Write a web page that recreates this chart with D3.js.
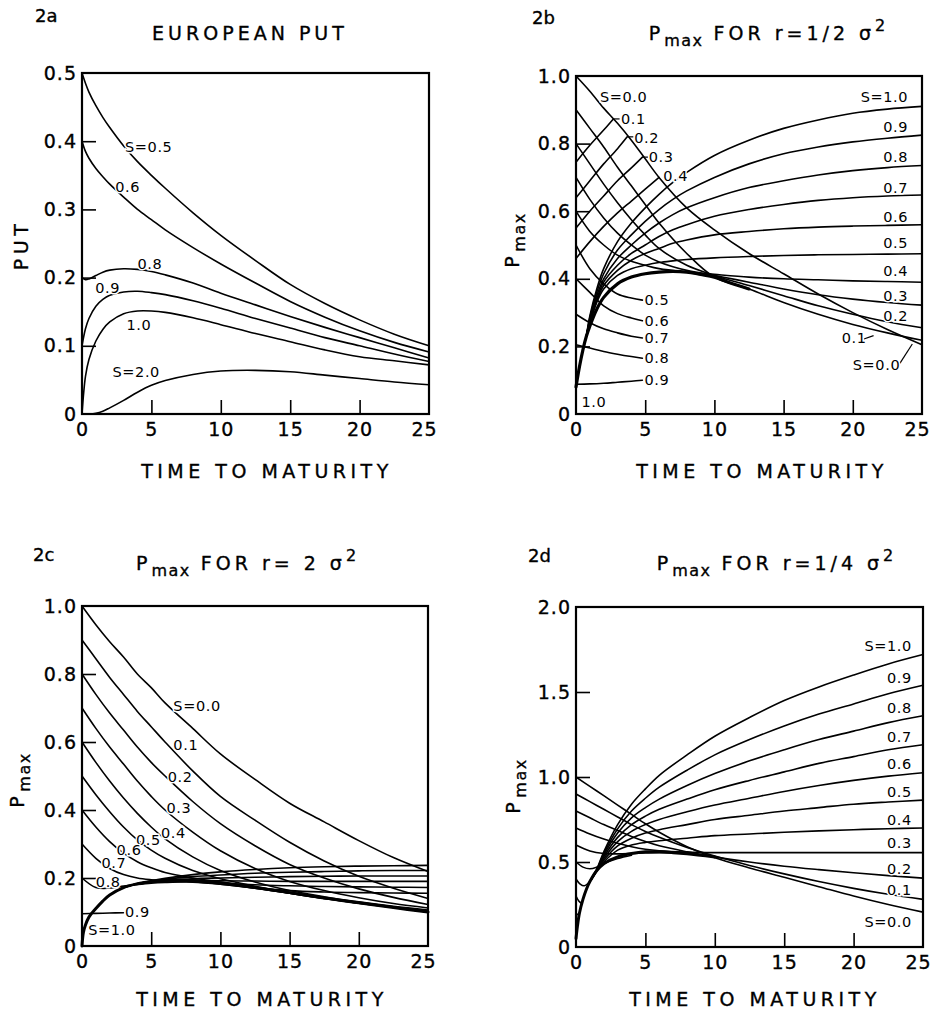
<!DOCTYPE html>
<html>
<head>
<meta charset="utf-8">
<script src="https://cdn.jsdelivr.net/npm/d3@7"></script>
<style>
  body { margin: 0; background: #fff; }
  svg { display: block; font-family: "DejaVu Sans", sans-serif; }
  .tick text { font-size: 19px; letter-spacing: 1px; fill: #000; stroke: #000; stroke-width: 0.35px; }
  .clabel { font-size: 14.5px; letter-spacing: 0.6px; fill: #000;
            stroke: #fff; stroke-width: 3px; paint-order: stroke; }
  .title { font-size: 19px; letter-spacing: 4px; stroke: #000; stroke-width: 0.35px; }
  .axtitle { font-size: 19px; letter-spacing: 4.5px; stroke: #000; stroke-width: 0.35px; }
  .panelid { font-size: 18px; stroke: #000; stroke-width: 0.35px; }
</style>
</head>
<body>
<svg id="fig" width="935" height="1012"></svg>
<script>
const T_GRID = [0, 1, 2, 3, 4, 5, 6, 8, 10, 12.5, 15, 17.5, 20, 22.5, 25];
const xTickLabels = [0, 5, 10, 15, 20, 25];
const xTickMarks = [5, 10, 15, 20];

// ---- 2a european put ----
const putTime = [0, 0.25, 0.5, 1, 1.5, 2, 3, 4, 5, 6, 8, 10, 12.5, 15, 17.5, 20, 22.5, 25];
const putCurves = [
  [0.5, 0.485, 0.472, 0.452, 0.435, 0.42, 0.393, 0.37, 0.35, 0.331, 0.295, 0.262, 0.225, 0.19, 0.162, 0.138, 0.117, 0.1],    // S=0.5
  [0.4, 0.385, 0.375, 0.36, 0.348, 0.337, 0.318, 0.3, 0.285, 0.27, 0.244, 0.22, 0.192, 0.165, 0.142, 0.122, 0.105, 0.091],   // S=0.6
  [0.2, 0.197, 0.198, 0.203, 0.208, 0.211, 0.213, 0.212, 0.209, 0.204, 0.192, 0.177, 0.16, 0.143, 0.127, 0.112, 0.097, 0.082], // S=0.8
  [0.1, 0.125, 0.14, 0.158, 0.168, 0.174, 0.179, 0.18, 0.178, 0.175, 0.166, 0.155, 0.14, 0.126, 0.112, 0.1, 0.088, 0.077],   // S=0.9
  [0, 0.055, 0.08, 0.107, 0.124, 0.135, 0.147, 0.151, 0.151, 0.149, 0.141, 0.131, 0.118, 0.106, 0.094, 0.084, 0.078, 0.072], // S=1.0
  [0, 0, 0, 0.001, 0.004, 0.009, 0.02, 0.032, 0.042, 0.049, 0.058, 0.063, 0.064, 0.062, 0.057, 0.052, 0.047, 0.043]         // S=2.0
];
const putLabels = [
  ["S=0.5", 3.1, 0.384], ["0.6", 2.4, 0.326], ["0.8", 4.0, 0.213],
  ["0.9", 0.95, 0.177], ["1.0", 3.2, 0.123], ["S=2.0", 2.2, 0.054]
];

// ---- 2b  r = 1/2 sigma^2 ----
const bDecay = [
  [1.0, 0.955, 0.905, 0.86, 0.81, 0.755, 0.70, 0.61, 0.545, 0.475, 0.415, 0.355, 0.30, 0.25, 0.205], // S=0.0
  [0.9, 0.845, 0.79, 0.73, 0.675, 0.62, 0.565, 0.475, 0.405, 0.37, 0.33, 0.295, 0.265, 0.24, 0.218], // S=0.1
  [0.8, 0.74, 0.68, 0.625, 0.575, 0.53, 0.49, 0.44, 0.41, 0.38, 0.35, 0.32, 0.295, 0.273, 0.255],    // S=0.2
  [0.7, 0.635, 0.58, 0.535, 0.5, 0.47, 0.45, 0.425, 0.41, 0.39, 0.37, 0.353, 0.34, 0.33, 0.322],     // S=0.3
  [0.6, 0.54, 0.5, 0.47, 0.452, 0.44, 0.43, 0.42, 0.413, 0.405, 0.4, 0.397, 0.394, 0.392, 0.39]      // S=0.4
];
const bShortTime = [0, 1, 2, 3, 4, 4.8];
const bShort = [
  [0.5, 0.43, 0.385, 0.355, 0.343, 0.337],   // S=0.5
  [0.4, 0.36, 0.32, 0.297, 0.284, 0.276],    // S=0.6
  [0.295, 0.27, 0.252, 0.24, 0.23, 0.225],   // S=0.7
  [0.205, 0.195, 0.185, 0.177, 0.17, 0.165], // S=0.8
  [0.088, 0.089, 0.091, 0.094, 0.097, 0.1]   // S=0.9
];
const bEnvTime = [0, 0.25, 0.5, 0.75, 1, 1.5, 2, 3, 4, 5, 6, 7, 8, 9, 10, 11, 12.5];
const bEnv = [0.08, 0.14, 0.19, 0.23, 0.26, 0.31, 0.345, 0.385, 0.405, 0.415, 0.42, 0.422, 0.42, 0.413, 0.405, 0.39, 0.37];
const bRiseTime = [0.75, 1, 1.5, 2, 3, 4, 5, 6, 7, 8, 10, 12.5, 15, 17.5, 20, 22.5, 25];
const bRise = [
  [0.23, 0.29, 0.37, 0.43, 0.51, 0.565, 0.61, 0.65, 0.685, 0.715, 0.765, 0.81, 0.845, 0.87, 0.89, 0.902, 0.91],   // S=1.0
  [0.23, 0.285, 0.36, 0.415, 0.485, 0.53, 0.57, 0.605, 0.635, 0.66, 0.70, 0.74, 0.77, 0.79, 0.805, 0.816, 0.825], // S=0.9
  [0.23, 0.28, 0.35, 0.40, 0.46, 0.50, 0.535, 0.565, 0.59, 0.61, 0.64, 0.67, 0.69, 0.707, 0.72, 0.729, 0.735],    // S=0.8
  [0.23, 0.275, 0.34, 0.39, 0.44, 0.475, 0.50, 0.525, 0.545, 0.56, 0.585, 0.605, 0.62, 0.632, 0.64, 0.645, 0.648], // S=0.7
  [0.23, 0.27, 0.335, 0.38, 0.425, 0.455, 0.475, 0.49, 0.505, 0.515, 0.53, 0.54, 0.548, 0.553, 0.556, 0.558, 0.56], // S=0.6
  [0.23, 0.268, 0.33, 0.37, 0.41, 0.43, 0.44, 0.448, 0.453, 0.457, 0.462, 0.466, 0.469, 0.471, 0.472, 0.473, 0.474] // S=0.5
];
const bUpperTime = [[0, 1, 2, 2.7], [0, 1, 2, 3, 3.7], [0, 1, 2, 3, 4, 4.8], [0, 1, 2, 3, 4, 5, 6]];
const bUpper = [
  [0.745, 0.795, 0.84, 0.873],
  [0.64, 0.69, 0.74, 0.785, 0.82],
  [0.55, 0.6, 0.645, 0.69, 0.728, 0.76],
  [0.46, 0.51, 0.555, 0.595, 0.63, 0.665, 0.70]
];
const bLabels = [
  ["S=0.0", 1.73, 0.924], ["0.1", 3.25, 0.858], ["0.2", 4.2, 0.803], ["0.3", 5.25, 0.745], ["0.4", 6.3, 0.688],
  ["0.5", 4.95, 0.322], ["0.6", 4.95, 0.261], ["0.7", 4.95, 0.21], ["0.8", 4.95, 0.15], ["0.9", 4.95, 0.085],
  ["1.0", 0.4, 0.02],
  ["S=1.0", 24.0, 0.924, "end"], ["0.9", 24.0, 0.835, "end"], ["0.8", 24.0, 0.747, "end"],
  ["0.7", 24.0, 0.653, "end"], ["0.6", 24.0, 0.569, "end"], ["0.5", 24.0, 0.49, "end"],
  ["0.4", 24.0, 0.407, "end"], ["0.3", 24.0, 0.333, "end"], ["0.2", 24.0, 0.274, "end"],
  ["0.1", 19.2, 0.21], ["S=0.0", 20.0, 0.131]
];
const bLeaders = [
  [2.7, 0.873, 3.15, 0.873], [3.7, 0.82, 4.15, 0.82], [4.8, 0.76, 5.2, 0.76],
  [20.8, 0.222, 21.5, 0.232], [23.4, 0.15, 24.3, 0.207]
];

// ---- 2c  r = 2 sigma^2 ----
const cDecay = [
  [1.0, 0.945, 0.895, 0.85, 0.80, 0.76, 0.715, 0.64, 0.565, 0.49, 0.42, 0.365, 0.31, 0.26, 0.219],   // S=0.0
  [0.9, 0.845, 0.79, 0.74, 0.69, 0.645, 0.6, 0.515, 0.44, 0.37, 0.305, 0.25, 0.205, 0.17, 0.14],     // S=0.1
  [0.8, 0.74, 0.685, 0.635, 0.585, 0.54, 0.5, 0.425, 0.36, 0.295, 0.24, 0.2, 0.168, 0.143, 0.122],   // S=0.2
  [0.7, 0.64, 0.585, 0.535, 0.485, 0.44, 0.4, 0.335, 0.28, 0.228, 0.19, 0.163, 0.142, 0.125, 0.112], // S=0.3
  [0.6, 0.54, 0.485, 0.435, 0.39, 0.35, 0.315, 0.262, 0.222, 0.188, 0.163, 0.145, 0.13, 0.117, 0.106], // S=0.4
  [0.5, 0.445, 0.395, 0.35, 0.312, 0.282, 0.258, 0.222, 0.198, 0.176, 0.158, 0.142, 0.128, 0.115, 0.103], // S=0.5
  [0.4, 0.35, 0.307, 0.273, 0.248, 0.23, 0.216, 0.2, 0.188, 0.172, 0.156, 0.141, 0.127, 0.114, 0.101],  // S=0.6
  [0.3, 0.258, 0.228, 0.21, 0.2, 0.195, 0.192, 0.189, 0.182, 0.17, 0.155, 0.14, 0.126, 0.113, 0.1],     // S=0.7
  [0.2, 0.172, 0.17, 0.176, 0.181, 0.185, 0.187, 0.188, 0.182, 0.17, 0.155, 0.14, 0.126, 0.113, 0.1]    // S=0.8
];
const cShortTime = [0, 1, 2, 3];
const cShort = [0.095, 0.096, 0.097, 0.098]; // S=0.9
const cEnvTime = [0, 0.1, 0.25, 0.5, 1, 1.5, 2, 3, 4, 5, 6, 7, 8, 10, 12.5, 15, 17.5, 20, 22.5, 25];
const cEnv = [0.0, 0.04, 0.062, 0.085, 0.11, 0.132, 0.15, 0.172, 0.183, 0.19, 0.193, 0.194, 0.193, 0.186, 0.172, 0.157, 0.141, 0.127, 0.113, 0.1];
const cFlatTime = [
  [3, 4, 5, 6, 8, 10, 12.5, 15, 17.5, 20, 22.5, 25],
  [3, 4, 5, 6, 8, 10, 12.5, 15, 17.5, 20, 22.5, 25],
  [3, 4, 5, 6, 8, 10, 12.5, 15, 17.5, 20, 22.5, 25],
  [3, 4, 5, 6, 8, 10, 12.5, 15, 17.5, 20, 22.5, 25],
  [8, 10, 12.5, 15, 17.5, 20, 22.5, 25],
  [10, 12.5, 15, 17.5, 20, 22.5, 25]
];
const cFlat = [
  [0.172, 0.183, 0.192, 0.199, 0.21, 0.218, 0.225, 0.23, 0.233, 0.235, 0.236, 0.237],
  [0.172, 0.183, 0.19, 0.196, 0.204, 0.209, 0.214, 0.217, 0.219, 0.221, 0.222, 0.222],
  [0.172, 0.183, 0.189, 0.193, 0.198, 0.2, 0.202, 0.204, 0.205, 0.206, 0.206, 0.206],
  [0.172, 0.183, 0.189, 0.192, 0.193, 0.192, 0.191, 0.19, 0.19, 0.19, 0.19, 0.19],
  [0.193, 0.186, 0.18, 0.177, 0.175, 0.174, 0.173, 0.172],
  [0.186, 0.172, 0.163, 0.159, 0.157, 0.156, 0.155]
];
const cLabels = [
  ["S=0.0", 6.6, 0.69], ["0.1", 6.6, 0.576], ["0.2", 6.2, 0.483], ["0.3", 6.1, 0.39],
  ["0.4", 5.7, 0.317], ["0.5", 3.9, 0.297], ["0.6", 2.5, 0.268], ["0.7", 1.4, 0.228],
  ["0.8", 1.0, 0.175], ["0.9", 3.1, 0.085], ["S=1.0", 0.45, 0.032]
];

// ---- 2d  r = 1/4 sigma^2 ----
const dDecay = [
  [1.0, 0.945, 0.89, 0.835, 0.78, 0.725, 0.675, 0.59, 0.525, 0.465, 0.41, 0.355, 0.3, 0.25, 0.205],   // S=0.0
  [0.9, 0.855, 0.81, 0.765, 0.72, 0.68, 0.645, 0.585, 0.535, 0.48, 0.43, 0.385, 0.345, 0.31, 0.28],   // S=0.1
  [0.8, 0.76, 0.72, 0.685, 0.65, 0.62, 0.595, 0.56, 0.53, 0.5, 0.475, 0.455, 0.437, 0.42, 0.405],     // S=0.2
  [0.7, 0.665, 0.635, 0.61, 0.59, 0.575, 0.566, 0.558, 0.555, 0.555, 0.555, 0.555, 0.555, 0.555, 0.555] // S=0.3
];
const dShortTime = [[0, 1, 2, 3, 4, 5, 6, 8], [0, 0.5, 1, 1.5, 2, 3, 4], [0, 0.3, 0.6, 1], [0, 0.2, 0.4], [0, 0.15, 0.25]];
const dShort = [
  [0.6, 0.565, 0.55, 0.548, 0.55, 0.553, 0.555, 0.553], // S=0.4
  [0.5, 0.47, 0.46, 0.47, 0.49, 0.52, 0.54],           // S=0.5
  [0.4, 0.37, 0.36, 0.385],                            // S=0.6
  [0.3, 0.27, 0.255],                                  // S=0.7
  [0.2, 0.19, 0.2]                                     // S=0.8
];
const dEnvTime = [0, 0.1, 0.25, 0.5, 0.75, 1, 1.5, 2, 3, 4, 5, 6, 7, 8, 10];
const dEnv = [0.05, 0.12, 0.2, 0.28, 0.34, 0.385, 0.45, 0.49, 0.53, 0.55, 0.56, 0.56, 0.555, 0.548, 0.53];
const dRiseTime = [1, 1.5, 2, 3, 4, 5, 6, 8, 10, 12.5, 15, 17.5, 20, 22.5, 25];
const dRise = [
  [0.385, 0.46, 0.56, 0.72, 0.84, 0.93, 1.01, 1.13, 1.24, 1.35, 1.45, 1.53, 1.6, 1.665, 1.72],     // S=1.0
  [0.385, 0.455, 0.55, 0.695, 0.8, 0.875, 0.94, 1.04, 1.13, 1.22, 1.3, 1.37, 1.43, 1.49, 1.54],    // S=0.9
  [0.385, 0.45, 0.54, 0.67, 0.76, 0.82, 0.87, 0.95, 1.02, 1.095, 1.16, 1.22, 1.27, 1.32, 1.36],    // S=0.8
  [0.385, 0.45, 0.53, 0.645, 0.72, 0.77, 0.81, 0.87, 0.925, 0.98, 1.03, 1.08, 1.12, 1.16, 1.19],   // S=0.7
  [0.385, 0.45, 0.52, 0.62, 0.68, 0.72, 0.75, 0.795, 0.835, 0.875, 0.915, 0.95, 0.98, 1.005, 1.025], // S=0.6
  [0.385, 0.45, 0.51, 0.595, 0.64, 0.67, 0.69, 0.72, 0.75, 0.775, 0.8, 0.82, 0.84, 0.853, 0.864],  // S=0.5
  [0.385, 0.45, 0.5, 0.57, 0.6, 0.615, 0.625, 0.64, 0.655, 0.665, 0.675, 0.683, 0.69, 0.696, 0.70] // S=0.4
];
const dLabels = [
  ["S=1.0", 24.2, 1.74, "end"], ["0.9", 24.2, 1.552, "end"], ["0.8", 24.2, 1.375, "end"],
  ["0.7", 24.2, 1.208, "end"], ["0.6", 24.2, 1.045, "end"], ["0.5", 24.2, 0.884, "end"],
  ["0.4", 24.2, 0.717, "end"], ["0.3", 24.2, 0.58, "end"], ["0.2", 24.2, 0.432, "end"],
  ["0.1", 24.2, 0.305, "end"], ["S=0.0", 24.2, 0.118, "end"]
];

// pair up times and values into point lists
function pts(times, values) {
  return times.map((t, i) => [t, values[i]]);
}

const svg = d3.select("#fig");
svg.append("rect").attr("width", 935).attr("height", 1012).attr("fill", "#fff");

function drawPanel(p) {
  const x = d3.scaleLinear().domain([0, 25]).range([p.left, p.right]);
  const y = d3.scaleLinear().domain([0, p.yMax]).range([p.bottom, p.top]);
  const g = svg.append("g");

  const line = d3.line()
    .x(d => x(d[0]))
    .y(d => y(d[1]))
    .curve(d3.curveCatmullRom.alpha(0.5));

  g.selectAll(".curve")
    .data(p.curves)
    .join("path")
    .attr("class", "curve")
    .attr("d", d => line(d.points))
    .attr("fill", "none")
    .attr("stroke", "#000")
    .attr("stroke-width", d => d.width || 1.6)
    .attr("stroke-linejoin", "round")
    .attr("stroke-linecap", "round");

  // frame
  g.append("rect")
    .attr("x", p.left).attr("y", p.top)
    .attr("width", p.right - p.left).attr("height", p.bottom - p.top)
    .attr("fill", "none").attr("stroke", "#000").attr("stroke-width", 2.2);

  // x tick labels (the last one sits a little inside, as in the original)
  g.append("g")
    .attr("transform", `translate(0,${p.bottom})`)
    .call(d3.axisBottom(x).tickValues(xTickLabels).tickSize(0).tickPadding(9).tickFormat(d3.format("d")))
    .call(a => a.select(".domain").remove())
    .call(a => a.selectAll("text").attr("font-family", "DejaVu Sans")
      .attr("dx", d => d === 25 ? -5 : 0));
  // x tick marks (inward)
  g.append("g")
    .attr("transform", `translate(0,${p.bottom})`)
    .call(d3.axisBottom(x).tickValues(xTickMarks).tickSizeInner(-14).tickSizeOuter(0).tickFormat(""))
    .call(a => a.select(".domain").remove())
    .call(a => a.selectAll("line").attr("stroke-width", 1.6));

  // y tick labels
  g.append("g")
    .attr("transform", `translate(${p.left},0)`)
    .call(d3.axisLeft(y).tickValues(p.yLabels).tickSize(0).tickPadding(5)
      .tickFormat(d => d === 0 ? "0" : d3.format(".1f")(d)))
    .call(a => a.select(".domain").remove())
    .call(a => a.selectAll("text").attr("font-family", "DejaVu Sans"));
  // y tick marks (inward)
  g.append("g")
    .attr("transform", `translate(${p.left},0)`)
    .call(d3.axisLeft(y).tickValues(p.yMarks).tickSizeInner(-14).tickSizeOuter(0).tickFormat(""))
    .call(a => a.select(".domain").remove())
    .call(a => a.selectAll("line").attr("stroke-width", 1.6));

  // leaders for curve labels
  g.selectAll(".leader")
    .data(p.leaders || [])
    .join("line")
    .attr("class", "leader")
    .attr("x1", d => x(d[0])).attr("y1", d => y(d[1]))
    .attr("x2", d => x(d[2])).attr("y2", d => y(d[3]))
    .attr("stroke", "#000").attr("stroke-width", 1.2);

  g.selectAll(".clabel")
    .data(p.labels)
    .join("text")
    .attr("class", "clabel")
    .attr("x", d => x(d[1]))
    .attr("y", d => y(d[2]))
    .attr("text-anchor", d => d[3] || "start")
    .text(d => d[0]);

  // panel id
  g.append("text").attr("class", "panelid")
    .attr("x", p.id[1]).attr("y", p.id[2]).text(p.id[0]);

  // title
  const title = g.append("text").attr("class", "title")
    .attr("x", p.titleX).attr("y", p.titleY).attr("text-anchor", "middle");
  if (p.titleMath) {
    title.append("tspan").text("P");
    title.append("tspan").attr("dy", 6).attr("font-size", 16).attr("letter-spacing", 1.5).text("max");
    title.append("tspan").attr("dy", -6).text(p.titleMath);
    title.append("tspan").attr("dy", -9).attr("font-size", 16).text("2");
  } else {
    title.text(p.titleText);
  }

  // x axis title
  g.append("text").attr("class", "axtitle")
    .attr("x", p.xTitle[0]).attr("y", p.xTitle[1])
    .attr("text-anchor", "middle")
    .text("TIME TO MATURITY");

  // y axis title
  const yt = g.append("text").attr("class", "axtitle")
    .attr("transform", `translate(${p.yTitle[0]},${p.yTitle[1]}) rotate(-90)`)
    .attr("text-anchor", "middle");
  if (p.yTitleMath) {
    yt.append("tspan").text("P");
    yt.append("tspan").attr("dy", 6).attr("font-size", 16).attr("letter-spacing", 1.5).text("max");
  } else {
    yt.text(p.yTitleText);
  }
}

// ---- build the series lists ----
const aCurves = putCurves.map(v => ({ points: pts(putTime, v) }));

const bCurves = [
  ...bDecay.map(v => ({ points: pts(T_GRID, v) })),
  ...bShort.map(v => ({ points: pts(bShortTime, v) })),
  ...bRise.map(v => ({ points: pts(bRiseTime, v) })),
  ...bUpper.map((v, i) => ({ points: pts(bUpperTime[i], v) })),
  { points: pts(bEnvTime, bEnv), width: 3.2 }
];

const cCurves = [
  ...cDecay.map(v => ({ points: pts(T_GRID, v) })),
  { points: pts(cShortTime, cShort) },
  ...cFlat.map((v, i) => ({ points: pts(cFlatTime[i], v) })),
  { points: pts(cEnvTime, cEnv), width: 3.0 }
];

const dCurves = [
  ...dDecay.map(v => ({ points: pts(T_GRID, v) })),
  ...dShort.map((v, i) => ({ points: pts(dShortTime[i], v) })),
  ...dRise.map(v => ({ points: pts(dRiseTime, v) })),
  { points: pts(dEnvTime, dEnv), width: 3.0 }
];

drawPanel({
  left: 82, right: 429, top: 73, bottom: 414, yMax: 0.5,
  yLabels: [0, 0.1, 0.2, 0.3, 0.4, 0.5], yMarks: [0.1, 0.2, 0.3, 0.4],
  curves: aCurves, labels: putLabels,
  id: ["2a", 35, 22],
  titleText: "EUROPEAN PUT", titleX: 250, titleY: 40,
  xTitle: [267, 478], yTitleText: "PUT", yTitle: [28, 245]
});

drawPanel({
  left: 576, right: 922, top: 76, bottom: 414, yMax: 1.0,
  yLabels: [0, 0.2, 0.4, 0.6, 0.8, 1.0], yMarks: [0.2, 0.4, 0.6, 0.8],
  curves: bCurves, labels: bLabels, leaders: bLeaders,
  id: ["2b", 532, 24],
  titleMath: " FOR r=1/2 \u03c3", titleX: 769, titleY: 40,
  xTitle: [762, 478], yTitleMath: true, yTitle: [519, 240]
});

drawPanel({
  left: 82, right: 428, top: 606, bottom: 946, yMax: 1.0,
  yLabels: [0, 0.2, 0.4, 0.6, 0.8, 1.0], yMarks: [0.2, 0.4, 0.6, 0.8],
  curves: cCurves, labels: cLabels,
  id: ["2c", 33, 561],
  titleMath: " FOR r= 2 \u03c3", titleX: 248, titleY: 570,
  xTitle: [262, 1006], yTitleMath: true, yTitle: [24, 780]
});

drawPanel({
  left: 576, right: 923, top: 607, bottom: 947, yMax: 2.0,
  yLabels: [0, 0.5, 1.0, 1.5, 2.0], yMarks: [0.5, 1.0, 1.5],
  curves: dCurves, labels: dLabels,
  id: ["2d", 528, 562],
  titleMath: " FOR r=1/4 \u03c3", titleX: 777, titleY: 570,
  xTitle: [755, 1006], yTitleMath: true, yTitle: [520, 786]
});
</script>
</body>
</html>
